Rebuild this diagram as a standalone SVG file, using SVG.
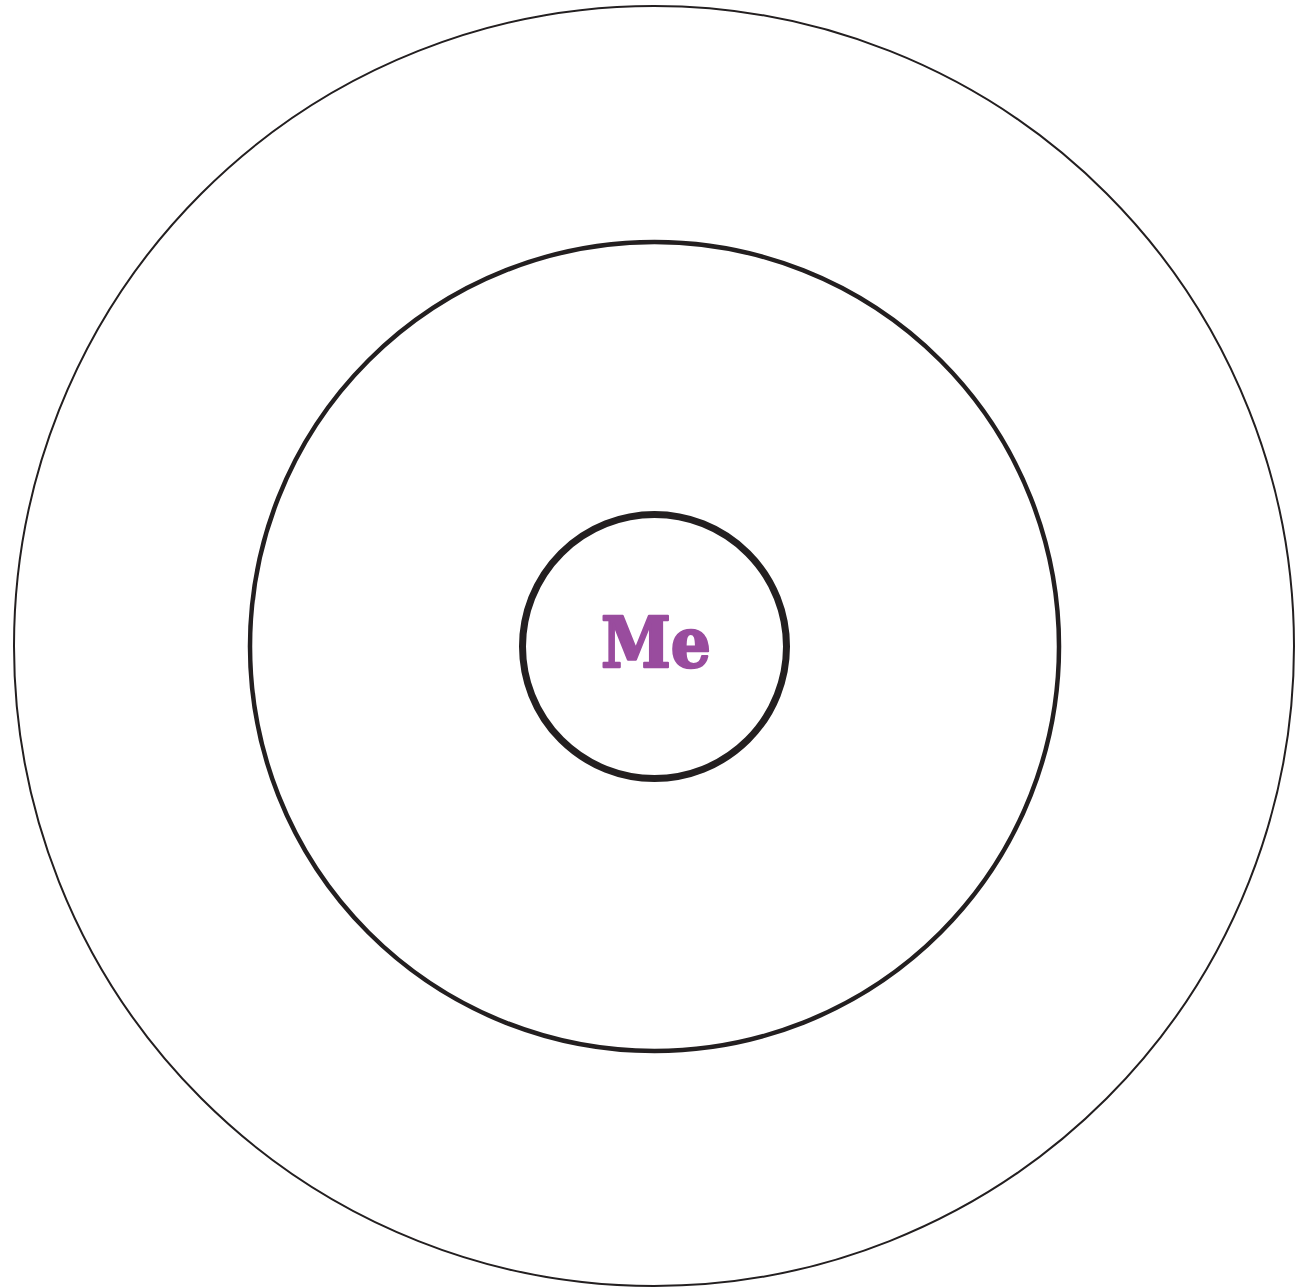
<svg xmlns="http://www.w3.org/2000/svg" width="1295" height="1287" viewBox="0 0 1295 1287">
<style>
.ring{fill:none;stroke:#231f20}
.label{font-family:"DejaVu Serif","Liberation Serif",serif;font-weight:bold;fill:#994c9e;stroke:#994c9e;stroke-width:2.5;stroke-linejoin:round}
</style>
<rect width="1295" height="1287" fill="#fff"/>
<g id="outer"><circle class="ring" cx="654" cy="646" r="640" stroke-width="2"/></g>
<g id="middle"><circle class="ring" cx="654.5" cy="646.5" r="404.5" stroke-width="4.5"/></g>
<g id="inner"><circle class="ring" cx="654.5" cy="646.5" r="132" stroke-width="7"/>
<text class="label" x="656" y="667" font-size="70" text-anchor="middle" textLength="110" lengthAdjust="spacingAndGlyphs">Me</text></g>
<g id="connectors"/>
</svg>
